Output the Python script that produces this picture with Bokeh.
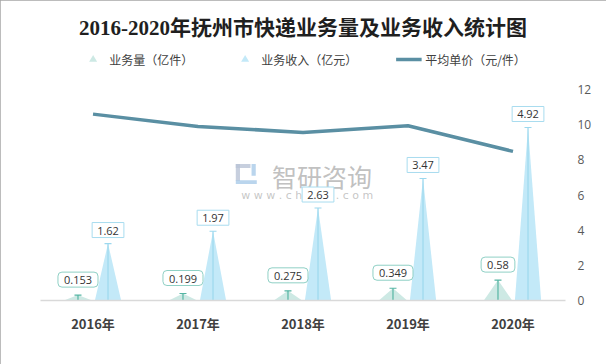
from bokeh.plotting import figure
from bokeh.models import (Range1d, LinearAxis, FixedTicker, Legend, LegendItem,
                          ColumnDataSource)
from bokeh.core.properties import value
from bokeh.embed import file_html
from bokeh.resources import INLINE

# ---- data ----
years = ["2016年", "2017年", "2018年", "2019年", "2020年"]
volume = [0.153, 0.199, 0.275, 0.349, 0.58]      # 业务量（亿件）
revenue = [1.62, 1.97, 2.63, 3.47, 4.92]         # 业务收入（亿元）
price = [10.6, 9.9, 9.56, 9.94, 8.48]            # 平均单价（元/件）
price_ticks = [0, 2, 4, 6, 8, 10, 12]

VOL_FILL, VOL_LINE, VOL_BOX = "#cde9e4", "#55b5a3", "#8fd0c5"
REV_FILL, REV_LINE, REV_BOX = "#c3e9f8", "#9cd8ee", "#a8dcef"
LINE_C = "#5a8fa3"
FONT = "Noto Sans CJK SC"

centers = [i + 0.5 for i in range(len(years))]
off = 0.143
vx = [c - off for c in centers]
rx = [c + off for c in centers]
hw_v, hw_r = 0.135, 0.125

p = figure(width=606, height=364, output_backend="svg", toolbar_location=None,
           x_range=Range1d(0, 5), y_range=Range1d(0, 7.28), y_axis_location=None,
           min_border_left=40, min_border_right=41, min_border_bottom=64, min_border_top=44,
           title="2016-2020年抚州市快递业务量及业务收入统计图",
           styles={"outline": "1px solid #a6a6a6", "outline-offset": "-1px"})
p.title.align = "center"
p.title.text_font = "Liberation Serif, Noto Sans CJK SC"
p.title.text_font_size = "21px"
p.title.text_font_style = "bold"
p.title.text_color = "#1f1f1f"
p.title.standoff = 9
p.outline_line_color = None
p.xgrid.visible = False
p.ygrid.visible = False
p.extra_y_ranges = {"price": Range1d(0, 14.56)}

# x axis
xa = p.xaxis[0]
xa.ticker = FixedTicker(ticks=centers)
xa.major_label_overrides = {c: y for c, y in zip(centers, years)}
xa.axis_line_color = "#d9d9d9"
xa.axis_line_width = 1.5
xa.major_tick_line_color = None
xa.major_tick_out = 0
xa.minor_tick_line_color = None
xa.major_label_text_font = FONT
xa.major_label_text_font_style = "bold"
xa.major_label_text_font_size = "13px"
xa.major_label_text_color = "#404040"
xa.major_label_standoff = 13

# right axis
ra = LinearAxis(y_range_name="price", ticker=FixedTicker(ticks=price_ticks))
ra.axis_line_color = None
ra.major_tick_line_color = None
ra.major_tick_out = 0
ra.minor_tick_line_color = None
ra.major_label_text_font = "Open Sans"
ra.major_label_text_font_size = "12px"
ra.major_label_text_color = "#595959"
ra.major_label_standoff = 12
p.add_layout(ra, "right")

# watermark (logo blocks + text)
p.quad(left=[1.86, 1.86, 1.86, 2.01], right=[2.0, 1.9, 2.06, 2.05],
       top=[3.88, 3.88, 3.42, 3.88], bottom=[3.77, 3.4, 3.31, 3.55],
       fill_color=["#b9c3d6", "#b9c3d6", "#a9cbe9", "#a9cbe9"], line_color=None, fill_alpha=0.8)
p.text(x=[2.68], y=[3.55], text=["智研咨询"], text_font=value(FONT), text_font_size="25px",
       text_color="#b0b0b0", text_alpha=0.8, text_align="center", text_baseline="middle")
p.text(x=[2.54], y=[3.0], text=["w w w . c h y x x . c o m"], text_font=value("DejaVu Sans"),
       text_font_size="11px", text_color="#b8b8b8", text_alpha=0.8, text_align="center",
       text_baseline="middle")

# triangles
vol_src = ColumnDataSource(dict(xs=[[x - hw_v, x, x + hw_v] for x in vx],
                                ys=[[0, v, 0] for v in volume]))
rev_src = ColumnDataSource(dict(xs=[[x - hw_r, x, x + hw_r] for x in rx],
                                ys=[[0, v, 0] for v in revenue]))
p.patches("xs", "ys", source=vol_src, fill_color=VOL_FILL, line_color=None)
p.patches("xs", "ys", source=rev_src, fill_color=REV_FILL, line_color=None)

# leader lines + caps
p.segment(x0=vx, y0=[0] * 5, x1=vx, y1=volume, line_color=VOL_LINE, line_width=1.2)
p.segment(x0=rx, y0=[0] * 5, x1=rx, y1=revenue, line_color=REV_LINE, line_width=1.2)
p.scatter(x=vx, y=volume, marker="dash", size=7, line_color=VOL_LINE, line_width=1.2)
p.scatter(x=rx, y=revenue, marker="dash", size=7, line_color=REV_LINE, line_width=1.2)

# price line
ln = p.line(x=centers, y=price, y_range_name="price", line_color=LINE_C, line_width=3.5)

# data labels
p.text(x=vx, y=volume, text=[str(v) for v in volume], text_font=value("Open Sans"),
       text_font_size="11px", text_color="#333333", text_align="center",
       text_baseline="bottom", y_offset=-8,
       background_fill_color="white", border_line_color=VOL_BOX, border_line_width=1,
       padding=dict(left=6, right=6, top=4, bottom=3), border_radius=4)
p.text(x=rx, y=revenue, text=[str(v) for v in revenue], text_font=value("Open Sans"),
       text_font_size="11px", text_color="#333333", text_align="center",
       text_baseline="bottom", y_offset=-6,
       background_fill_color="white", border_line_color=REV_BOX, border_line_width=1,
       padding=dict(left=5, right=5, top=4, bottom=3))

# legend dummies (single point outside the visible range)
dv = p.scatter(x=[-5], y=[-5], marker="triangle", fill_color=VOL_FILL, line_color=None)
dr = p.scatter(x=[-5], y=[-5], marker="triangle", fill_color=REV_FILL, line_color=None)
legend = Legend(items=[LegendItem(label="业务量（亿件）", renderers=[dv]),
                       LegendItem(label="业务收入（亿元）", renderers=[dr]),
                       LegendItem(label="平均单价（元/件）", renderers=[ln])],
                orientation="horizontal", location="top_center",
                label_text_font=FONT, label_text_font_size="12px", label_text_color="#404040",
                glyph_width=26, glyph_height=20, spacing=38, label_standoff=4,
                border_line_color=None, background_fill_alpha=0, padding=1, margin=5)
p.add_layout(legend)

open("out.html", "w").write(file_html(p, INLINE))
